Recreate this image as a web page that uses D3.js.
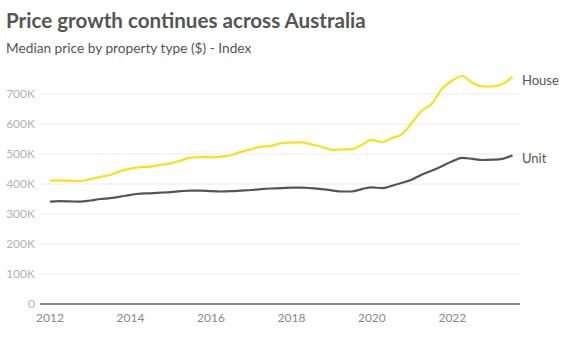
<!DOCTYPE html>
<html lang="en">
<head>
    <meta charset="utf8">
    <title>Price growth continues across Australia</title>
    <script src="https://d3js.org/d3.v7.min.js"></script>
    <style>
        body { margin: 0; background: #fff; }
        svg { display: block; font-family: Lato, "Open Sans", sans-serif; }
    </style>
</head>
<body>
    <svg id="chart" width="568" height="340"></svg>
    <script>
        // quarterly, Jan 2012 .. Jul 2023
        const quarters = d3.range(47).map(i => new Date(2012, i * 3, 1));
        const house = [411, 412, 411, 410, 416, 424, 430, 443, 451, 456, 458, 464, 469, 478, 488, 490,
                       489, 491, 496, 507, 516, 524, 527, 536, 538, 539, 532, 524, 514, 515, 516, 530,
                       547, 540, 553, 566, 605, 645, 668, 718, 745, 760, 737, 725, 725, 733, 758];
        const unit = [341, 343, 342, 341, 345, 350, 353, 358, 364, 368, 369, 371, 373, 376, 378, 378,
                      376, 375, 376, 378, 380, 383, 385, 386, 388, 388, 386, 383, 379, 375, 375, 383,
                      389, 386, 394, 404, 415, 432, 445, 460, 476, 487, 484, 480, 481, 484, 496];
        const yTicks = [0, 100, 200, 300, 400, 500, 600, 700];
        const xTicks = [2012, 2014, 2016, 2018, 2020, 2022];

        const svg = d3.select("#chart");

        const x = d3.scaleTime()
            .domain([new Date(2012, 0, 1), new Date(2023, 6, 1)])
            .range([50, 512.5]);
        const y = d3.scaleLinear().domain([0, 700]).range([304, 94]);

        svg.append("text").attr("x", 6).attr("y", 28)
            .attr("font-size", 20.6).attr("font-weight", 700).attr("fill", "#555")
            .text("Price growth continues across Australia");
        svg.append("text").attr("x", 6).attr("y", 53)
            .attr("font-size", 13.7).attr("fill", "#555")
            .text("Median price by property type ($) - Index");

        // grid + y labels
        svg.append("g").selectAll("line")
            .data(yTicks.filter(d => d > 0))
            .join("line")
            .attr("x1", 40).attr("x2", 520)
            .attr("y1", d => y(d)).attr("y2", d => y(d))
            .attr("stroke", "#ebebeb").attr("stroke-width", 1);

        svg.append("g").selectAll("text")
            .data(yTicks)
            .join("text")
            .attr("x", 35).attr("y", d => y(d) + 4)
            .attr("text-anchor", "end")
            .attr("font-size", 12).attr("fill", "#b3b3b3")
            .text(d => d === 0 ? "0" : d + "K");

        svg.append("line")
            .attr("x1", 40).attr("x2", 520)
            .attr("y1", y(0)).attr("y2", y(0))
            .attr("stroke", "#8a8a8a").attr("stroke-width", 2);

        svg.append("g").selectAll("text")
            .data(xTicks)
            .join("text")
            .attr("x", d => x(new Date(d, 0, 1)))
            .attr("y", 322)
            .attr("text-anchor", "middle")
            .attr("font-size", 12).attr("fill", "#888")
            .text(d => d);

        const line = vals => d3.line()
            .x((d, i) => x(quarters[i]))
            .y(d => y(d))
            .curve(d3.curveMonotoneX)(vals);

        svg.append("path").attr("d", line(house))
            .attr("fill", "none").attr("stroke", "#fbe018").attr("stroke-width", 2.2);
        svg.append("path").attr("d", line(unit))
            .attr("fill", "none").attr("stroke", "#555").attr("stroke-width", 2.2);

        svg.append("text").attr("x", 522).attr("y", y(house[house.length - 1]) + 8)
            .attr("font-size", 13).attr("fill", "#555").text("House");
        svg.append("text").attr("x", 522).attr("y", y(unit[unit.length - 1]) + 8)
            .attr("font-size", 13).attr("fill", "#555").text("Unit");
    </script>
</body>
</html>
